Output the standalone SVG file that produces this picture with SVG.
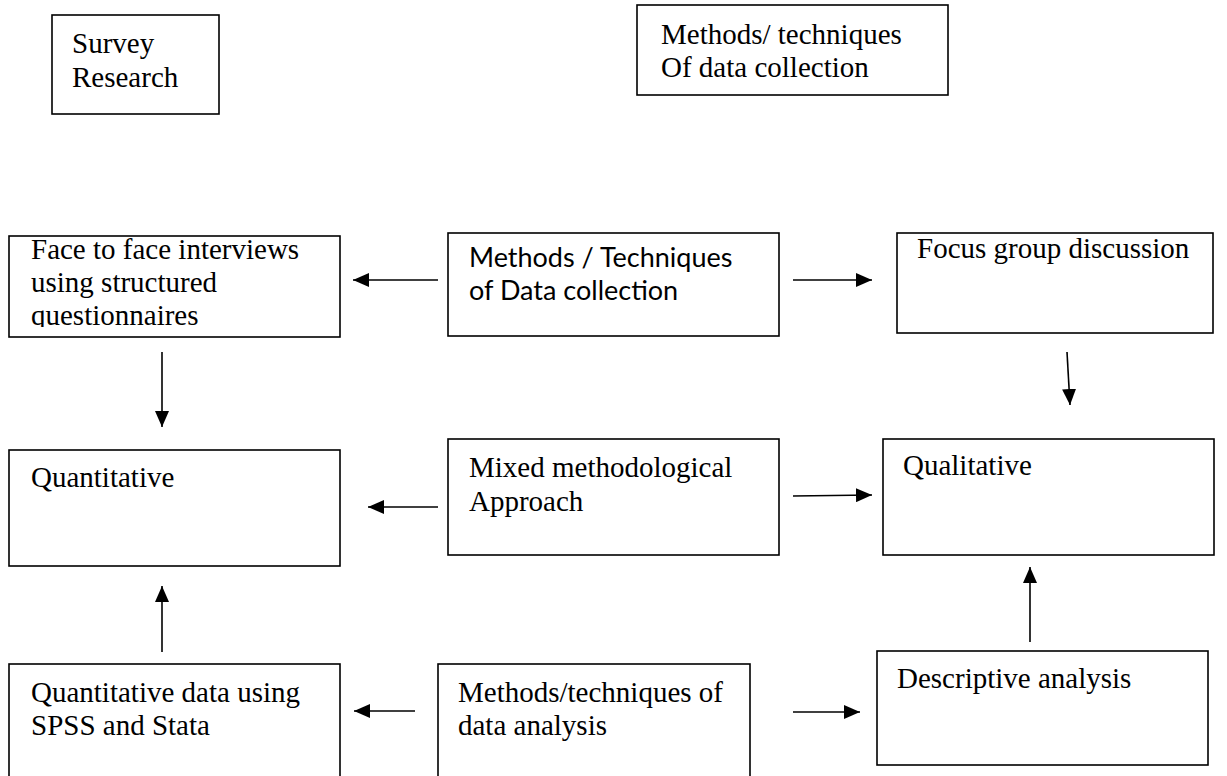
<svg xmlns="http://www.w3.org/2000/svg" width="1227" height="776" viewBox="0 0 1227 776">
<style>
.box{fill:#fff;stroke:#000;stroke-width:1.6}
.t{font-family:"Liberation Serif","Times New Roman",serif;font-size:29px;fill:#000}
.s{font-family:Lato,"Liberation Sans",sans-serif;font-size:27px;fill:#000}
.c{stroke:#000;stroke-width:1.6;fill:none}
</style>
<defs>
<marker id="ah" markerUnits="userSpaceOnUse" markerWidth="17" markerHeight="14" refX="16" refY="7" orient="auto">
<path d="M0,0 L16,7 L0,14 Z" fill="#000"/>
</marker>
<clipPath id="clipFace"><rect x="0" y="230" width="345" height="97"/></clipPath>
</defs>
<g id="survey">
<rect class="box" x="52" y="15" width="167" height="99"/>
<text class="t" x="72" y="53">Survey</text>
<text class="t" x="72" y="87">Research</text>
</g>
<g id="methods-top">
<rect class="box" x="637" y="5" width="311" height="90"/>
<text class="t" x="661" y="44">Methods/ techniques</text>
<text class="t" x="661" y="77">Of data collection</text>
</g>
<g id="face">
<rect class="box" x="9" y="236" width="331" height="101"/>
<g clip-path="url(#clipFace)">
<text class="t" x="31" y="259">Face to face interviews</text>
<text class="t" x="31" y="292">using structured</text>
<text class="t" x="31" y="325">questionnaires</text>
</g>
</g>
<g id="methods-collection">
<rect class="box" x="448" y="233" width="331" height="103"/>
<text class="s" x="469" y="267">Methods / Techniques</text>
<text class="s" x="469" y="300">of Data collection</text>
</g>
<g id="focus">
<rect class="box" x="897" y="233" width="316" height="100"/>
<text class="t" x="917" y="258">Focus group discussion</text>
</g>
<g id="quantitative">
<rect class="box" x="9" y="450" width="331" height="116"/>
<text class="t" x="31" y="487">Quantitative</text>
</g>
<g id="mixed">
<rect class="box" x="448" y="439" width="331" height="116"/>
<text class="t" x="469" y="477">Mixed methodological</text>
<text class="t" x="469" y="511">Approach</text>
</g>
<g id="qualitative">
<rect class="box" x="883" y="439" width="331" height="116"/>
<text class="t" x="903" y="475">Qualitative</text>
</g>
<g id="quant-data">
<rect class="box" x="9" y="664" width="331" height="120"/>
<text class="t" x="31" y="702">Quantitative data using</text>
<text class="t" x="31" y="735">SPSS and Stata</text>
</g>
<g id="methods-analysis">
<rect class="box" x="438" y="664" width="312" height="120"/>
<text class="t" x="458" y="702">Methods/techniques of</text>
<text class="t" x="458" y="735">data analysis</text>
</g>
<g id="descriptive">
<rect class="box" x="877" y="651" width="331" height="114"/>
<text class="t" x="897" y="688">Descriptive analysis</text>
</g>
<g id="connectors">
<line class="c" x1="438" y1="280" x2="353" y2="280" marker-end="url(#ah)"/>
<line class="c" x1="793" y1="280" x2="872" y2="280" marker-end="url(#ah)"/>
<line class="c" x1="162" y1="352" x2="162" y2="427" marker-end="url(#ah)"/>
<line class="c" x1="1067" y1="352" x2="1070" y2="405" marker-end="url(#ah)"/>
<line class="c" x1="438" y1="507" x2="368" y2="507" marker-end="url(#ah)"/>
<line class="c" x1="793" y1="496" x2="872" y2="495" marker-end="url(#ah)"/>
<line class="c" x1="162" y1="652" x2="162" y2="586" marker-end="url(#ah)"/>
<line class="c" x1="1030" y1="642" x2="1030" y2="567" marker-end="url(#ah)"/>
<line class="c" x1="415" y1="711" x2="354" y2="711" marker-end="url(#ah)"/>
<line class="c" x1="793" y1="712" x2="860" y2="712" marker-end="url(#ah)"/>
</g>
</svg>
